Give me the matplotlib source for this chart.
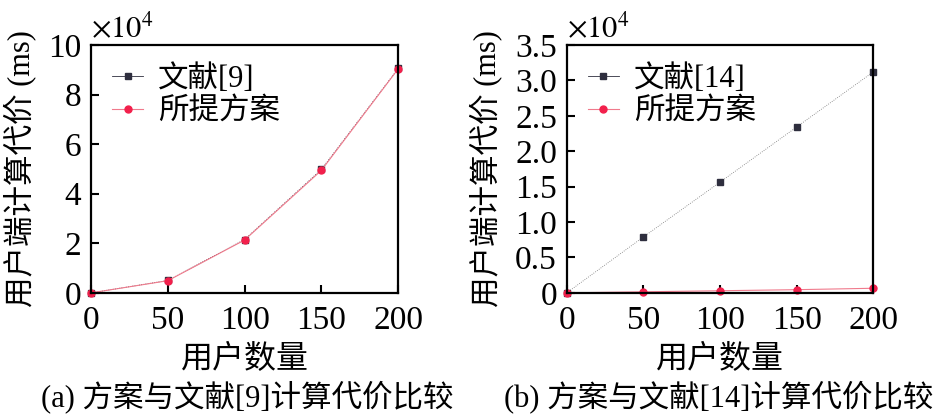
import numpy as np
import matplotlib.pyplot as plt
from matplotlib.ticker import FixedLocator, FixedFormatter

plt.rcParams['font.family'] = ['Liberation Serif', 'Noto Sans CJK SC']
plt.rcParams['mathtext.fontset'] = 'stix'

# 数据
users = [0, 50, 100, 150, 200]
ref9_cost = [0, 5000, 21500, 49800, 90500]
ours_a_cost = [0, 4900, 21300, 49400, 90300]
ref14_cost = [0, 7890, 15630, 23420, 31200]
ours_b_cost = [0, 150, 300, 450, 650]

y_ticks_a = [0, 20000, 40000, 60000, 80000, 100000]
y_labels_a = ['0', '2', '4', '6', '8', '10']
y_ticks_b = [0, 5000, 10000, 15000, 20000, 25000, 30000, 35000]
y_labels_b = ['0', '0.5', '1.0', '1.5', '2.0', '2.5', '3.0', '3.5']
x_ticks = [0, 50, 100, 150, 200]

black_c = '#2e2e3e'
red_c = '#f2204c'
pink_c = '#f07a8c'

fig = plt.figure(figsize=(9.45, 4.16), dpi=100)
ax1 = fig.add_axes([0.0963, 0.296, 0.325, 0.596])
ax2 = fig.add_axes([0.5997, 0.296, 0.3245, 0.596])


def style_axis(ax, yticks, ylabels, ymax, ylab_x):
    ax.set_xlim(0, 200)
    ax.set_ylim(0, ymax)
    ax.xaxis.set_major_locator(FixedLocator(x_ticks))
    ax.yaxis.set_major_locator(FixedLocator(yticks))
    ax.yaxis.set_major_formatter(FixedFormatter(ylabels))
    ax.tick_params(direction='in', length=6, width=1.5, labelsize=24,
                   top=False, right=False)
    ax.tick_params(axis='x', pad=9)
    ax.tick_params(axis='y', pad=7)
    for s in ax.spines.values():
        s.set_linewidth(1.6)
    ax.set_xlabel('用户数量', fontsize=23)
    ax.xaxis.set_label_coords(0.5, -0.21)
    ax.set_ylabel('用户端计算代价 (ms)', fontsize=22)
    ax.yaxis.set_label_coords(ylab_x, 0.5)
    ax.text(0.0, 1.0, r'$\times10^4$', transform=ax.transAxes,
            fontsize=22, ha='left', va='bottom')


ax1.plot(users, ref9_cost, color=black_c, lw=0.6, ls=':', marker='s',
         markersize=4, label='文献[9]', clip_on=False)
ax1.plot(users, ours_a_cost, color=pink_c, lw=0.8, marker='o',
         markersize=5, markerfacecolor=red_c, markeredgecolor=red_c,
         label='所提方案', clip_on=False)
style_axis(ax1, y_ticks_a, y_labels_a, 100000, -0.18)

ax2.plot(users, ref14_cost, color='#777777', lw=0.6, ls=':', marker='s',
         markersize=4, markerfacecolor=black_c, markeredgecolor=black_c,
         label='文献[14]', clip_on=False)
ax2.plot(users, ours_b_cost, color=pink_c, lw=0.8, marker='o',
         markersize=5, markerfacecolor=red_c, markeredgecolor=red_c,
         label='所提方案', clip_on=False)
style_axis(ax2, y_ticks_b, y_labels_b, 35000, -0.21)

for ax in (ax1, ax2):
    leg = ax.legend(loc='upper left', bbox_to_anchor=(0.0, 1.01), frameon=False,
                    fontsize=22, handlelength=1.0, handletextpad=0.5,
                    labelspacing=0.15, borderaxespad=0.3)
    leg.legend_handles[0].set_linestyle('-')
    leg.legend_handles[0].set_color(black_c)

fig.text(0.262, 0.046, '(a) 方案与文献[9]计算代价比较', fontsize=22,
         ha='center', va='center')
fig.text(0.7605, 0.046, '(b) 方案与文献[14]计算代价比较', fontsize=22,
         ha='center', va='center')

fig.savefig('out.png', dpi=100)
